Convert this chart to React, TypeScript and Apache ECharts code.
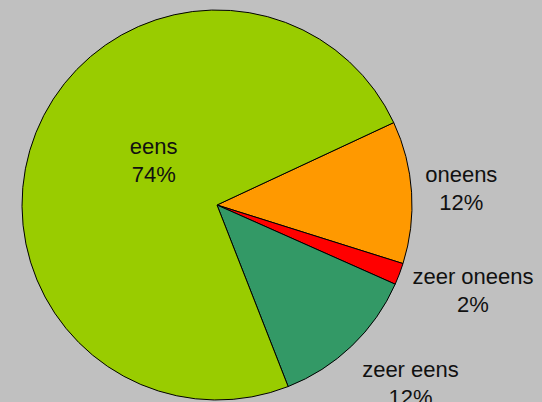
import React, { useEffect, useRef } from "react";
import * as echarts from "echarts";

const categories = ["oneens", "zeer oneens", "zeer eens", "eens"];
const values = [11.8, 1.8, 12.4, 74.0];
const colors = ["#ff9900", "#ff0000", "#339966", "#99cc00"];
// label offsets from the default inside label position
const labelOffsets: [number, number][] = [
  [144, -10],
  [162, 50],
  [124, 106],
  [30, -7],
];

export default function App() {
  const ref = useRef<HTMLDivElement>(null);
  useEffect(() => {
    if (!ref.current) return;
    const chart = echarts.init(ref.current, undefined, { renderer: "svg" });
    chart.setOption({
      animation: false,
      backgroundColor: "#c0c0c0",
      series: [
        {
          type: "pie",
          center: [217, 205],
          radius: 195,
          startAngle: 25,
          clockwise: true,
          avoidLabelOverlap: false,
          label: {
            show: true,
            position: "inside",
            color: "#111",
            fontFamily: "Liberation Sans, Arial, sans-serif",
            fontSize: 22,
            lineHeight: 28,
            align: "center",
            formatter: (p: any) => `${p.name}\n${Math.round(p.percent)}%`,
          },
          labelLine: { show: false },
          emphasis: { disabled: true },
          itemStyle: { borderColor: "#000", borderWidth: 1 },
          data: categories.map((name, i) => ({
            name,
            value: values[i],
            itemStyle: { color: colors[i] },
            label: { offset: labelOffsets[i] },
          })),
        },
      ],
    });
    return () => chart.dispose();
  }, []);
  return (
    <div
      ref={ref}
      style={{ position: "fixed", left: 0, top: 0, width: 542, height: 402 }}
    />
  );
}
